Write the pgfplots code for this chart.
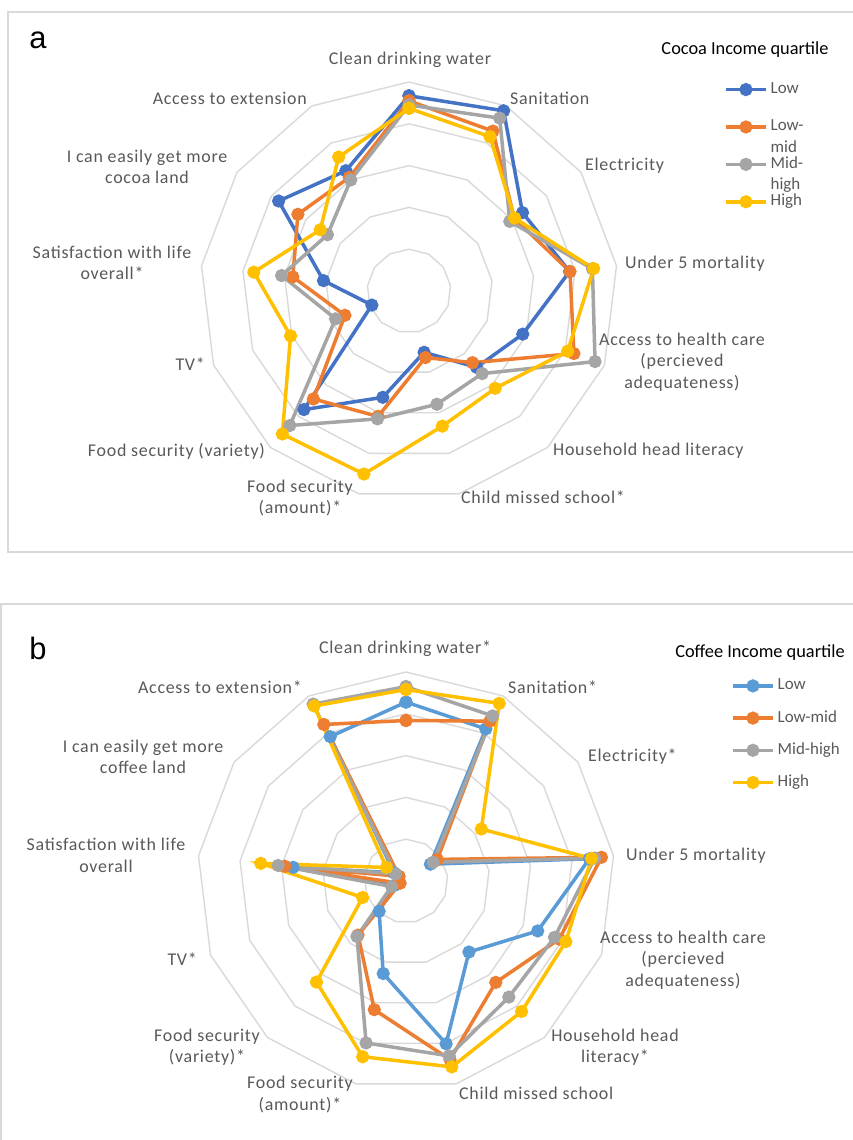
\documentclass[border=0pt]{standalone}
\usepackage{fontspec}
\setmainfont{Carlito}
\newfontfamily\lblfont[LetterSpace=4]{Carlito}
\newfontfamily\arialfont{Liberation Sans}
\usepackage{pgfplots}
\usepgfplotslibrary{polar}
\usepackage{pgfplotstable}
\pgfplotsset{compat=1.18}
\definecolor{cLowA}{HTML}{4472C4}
\definecolor{cLowB}{HTML}{5B9BD5}
\definecolor{cLowMid}{HTML}{ED7D31}
\definecolor{cMidHigh}{HTML}{A5A5A5}
\definecolor{cHigh}{HTML}{FFC000}
\definecolor{ringc}{HTML}{D9D9D9}
\definecolor{lblc}{HTML}{595959}

% angle column: 13 spokes clockwise from the top; first row repeated to close the polygon
\pgfplotstableread{
a        low  lowmid midhigh high
90       4.67 4.55   4.45    4.37
62.3077  4.87 4.32   4.67    4.17
34.6154  3.30 3.06   2.93    3.07
6.9231   3.87 3.88   4.42    4.45
-20.7692 2.91 4.22   4.76    4.06
-48.4615 2.44 2.29   2.64    3.11
-76.1538 1.51 1.64   2.79    3.33
-103.8462 2.62 3.09  3.15    4.51
-131.5385 3.79 3.45  4.30    4.57
-159.2308 0.95 1.64  1.88    3.03
-186.9231 2.06 2.80  3.07    3.74
-214.6154 3.79 3.23  2.37    2.58
-242.3077 3.25 3.07  3.00    3.62
-270     4.67 4.55   4.45    4.37
}\cocoa

\pgfplotstableread{
a        low  lowmid midhigh high
90       4.28 3.84   4.65    4.58
62.3077  4.11 4.32   4.46    4.80
34.6154  0.71 0.91   0.79    2.19
6.9231   4.42 4.71   4.55    4.47
-20.7692 3.37 3.92   3.80    4.09
-48.4615 2.27 3.24   3.71    4.17
-76.1538 4.01 4.40   4.31    4.58
-103.8462 2.28 3.17  3.99    4.33
-131.5385 0.97 1.73  1.77    3.23
-159.2308 0.30 0.15  0.37    1.11
-186.9231 2.72 2.92  3.08    3.50
-214.6154 0.35 0.20  0.30    0.57
-242.3077 3.90 4.23  4.78    4.73
-270     4.28 3.84   4.65    4.58
}\coffee

\pgfplotsset{
  radar/.style={hide axis, scale only axis, width=418bp, height=418bp,
    xmin=0, xmax=360, ymin=0, ymax=5, clip=false, anchor=center,
    legend cell align=left,
    legend image code/.code={\draw[mark repeat=2,mark phase=2,##1] plot coordinates {(0bp,0bp) (20bp,0bp) (40bp,0bp)};},
    legend style={draw=none, fill=none, inner sep=0pt, column sep=3bp,
      font=\fontsize{17}{21.7}\selectfont\color{lblc},
      nodes={inner sep=0pt, text height=12bp, text depth=4bp}},
  },
  ring/.style={draw=ringc, line width=1.4bp, no marks, forget plot},
  ser/.style={line width=3.5bp, mark=*, mark size=4.8bp, color=#1, mark options={solid, fill=#1}},
}

\newcommand\rings{%
  \pgfplotsinvokeforeach{1,2,3,4,5}{%
    \addplot[ring] coordinates {(90,##1) (62.3077,##1) (34.6154,##1) (6.9231,##1) (-20.7692,##1) (-48.4615,##1) (-76.1538,##1) (-103.8462,##1) (-131.5385,##1) (-159.2308,##1) (-186.9231,##1) (-214.6154,##1) (-242.3077,##1) (-270,##1)};
  }}

\newcommand\twol[2]{\smash{\begin{tabular}[t]{@{}l@{}}#1\\#2\end{tabular}}}

\begin{document}
\begin{tikzpicture}
\useasboundingbox (0bp,0bp) rectangle (853bp,-1140bp);
\fill[white] (0bp,0bp) rectangle (853bp,-1140bp);
\draw[ringc, line width=1.5bp] (8bp,-12bp) rectangle (870bp,-552bp);
\draw[ringc, line width=1.5bp] (0.8bp,-604bp) rectangle (870bp,-1160bp);

\node[font=\arialfont\fontsize{31}{31}\selectfont] at (38bp,-40bp) {a};
\node[font=\arialfont\fontsize{31}{31}\selectfont] at (38bp,-648bp) {b};

% ---------------- panel a ----------------
\begin{polaraxis}[radar, at={(409bp,-291bp)},
  legend style={at={(axis description cs:1.2536,1.0015)}, anchor=north west, row sep=21.4bp}]
\rings
\addplot[ser=cLowA] table[x=a,y=low]{\cocoa};
\addlegendentry{Low}
\addplot[ser=cLowMid] table[x=a,y=lowmid]{\cocoa};
\addlegendentry{\twol{Low-}{mid}}
\addplot[ser=cMidHigh] table[x=a,y=midhigh]{\cocoa};
\addlegendentry{\twol{Mid-}{high}}
\addplot[ser=cHigh] table[x=a,y=high]{\cocoa};
\addlegendentry{High}
\end{polaraxis}

\node[font=\fontsize{18.4}{22}\selectfont] at (745bp,-50bp) {Cocoa Income quartile};

\begin{scope}[every node/.style={font=\lblfont\fontsize{18}{21.5}\selectfont, text=lblc, inner sep=0pt, align=center}]
\node[anchor=center] at (410bp,-60bp) {Clean drinking water};
\node[anchor=west] at (510bp,-98bp) {Sanitation};
\node[anchor=west] at (585bp,-166bp) {Electricity};
\node[anchor=west] at (625bp,-264bp) {Under 5 mortality};
\node[anchor=center] at (682bp,-362bp) {Access to health care\\(percieved\\adequateness)};
\node[anchor=west] at (553bp,-451bp) {Household head literacy};
\node[anchor=west] at (461bp,-497bp) {Child missed school*};
\node[anchor=center] at (300bp,-498bp) {Food security\\(amount)*};
\node[anchor=east] at (265bp,-451bp) {Food security (variety)};
\node[anchor=east] at (205bp,-364bp) {TV*};
\node[anchor=center] at (112bp,-263bp) {Satisfaction with life\\overall*};
\node[anchor=center] at (147bp,-167bp) {I can easily get more\\cocoa land};
\node[anchor=east] at (307bp,-98bp) {Access to extension};
\end{scope}

% ---------------- panel b ----------------
\begin{polaraxis}[radar, at={(406bp,-881bp)},
  legend style={at={(axis description cs:1.2775,0.9864)}, anchor=north west, row sep=16.2bp}]
\rings
\addplot[ser=cLowB] table[x=a,y=low]{\coffee};
\addlegendentry{Low}
\addplot[ser=cLowMid] table[x=a,y=lowmid]{\coffee};
\addlegendentry{Low-mid}
\addplot[ser=cMidHigh] table[x=a,y=midhigh]{\coffee};
\addlegendentry{Mid-high}
\addplot[ser=cHigh] table[x=a,y=high]{\coffee};
\addlegendentry{High}
\end{polaraxis}

\node[font=\fontsize{18.4}{22}\selectfont] at (760bp,-653bp) {Coffee Income quartile};

\begin{scope}[every node/.style={font=\lblfont\fontsize{18}{21.5}\selectfont, text=lblc, inner sep=0pt, align=center}]
\node[anchor=center] at (405bp,-649bp) {Clean drinking water*};
\node[anchor=west] at (508bp,-687bp) {Sanitation*};
\node[anchor=west] at (588bp,-757bp) {Electricity*};
\node[anchor=west] at (626bp,-856bp) {Under 5 mortality};
\node[anchor=center] at (683bp,-960bp) {Access to health care\\(percieved\\adequateness)};
\node[anchor=center] at (615bp,-1047bp) {Household head\\literacy*};
\node[anchor=west] at (459bp,-1093bp) {Child missed school};
\node[anchor=center] at (300bp,-1094.5bp) {Food security\\(amount)*};
\node[anchor=center] at (207bp,-1047bp) {Food security\\(variety)*};
\node[anchor=east] at (197bp,-959bp) {TV*};
\node[anchor=center] at (106bp,-855.5bp) {Satisfaction with life\\overall};
\node[anchor=center] at (143bp,-757bp) {I can easily get more\\coffee land};
\node[anchor=east] at (302bp,-687bp) {Access to extension*};
\end{scope}
\end{tikzpicture}
\end{document}
